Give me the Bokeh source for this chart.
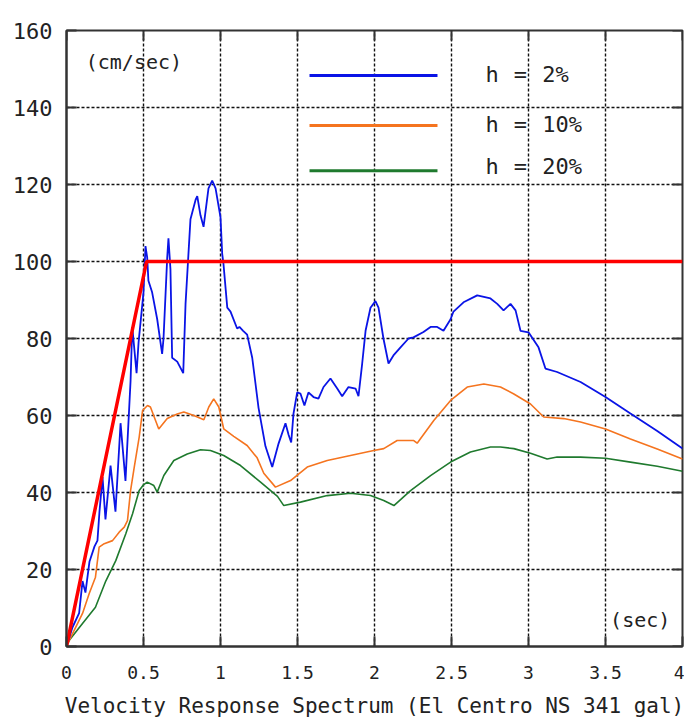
from bokeh.plotting import figure
from bokeh.models import Range1d, FixedTicker
from bokeh.core.properties import value
from bokeh.embed import file_html
from bokeh.resources import INLINE

# ---- data (period in sec, velocity in cm/sec) ----
period_h2 = [0, 0.039, 0.082, 0.104, 0.123, 0.149, 0.182, 0.201, 0.214, 0.234,
             0.253, 0.286, 0.318, 0.351, 0.383, 0.416, 0.427, 0.455, 0.468, 0.5,
             0.513, 0.524, 0.532, 0.556, 0.589, 0.621, 0.630, 0.654, 0.662, 0.675,
             0.686, 0.719, 0.758, 0.773, 0.805, 0.838, 0.849, 0.870, 0.890, 0.922,
             0.946, 0.968, 1.0, 1.011, 1.019, 1.044, 1.065, 1.108, 1.123, 1.147,
             1.173, 1.206, 1.247, 1.292, 1.336, 1.377, 1.422, 1.442, 1.459, 1.474,
             1.498, 1.519, 1.545, 1.571, 1.604, 1.636, 1.669, 1.714, 1.758, 1.790,
             1.831, 1.877, 1.896, 1.920, 1.942, 1.974, 2.006, 2.026, 2.058, 2.091,
             2.123, 2.169, 2.221, 2.253, 2.318, 2.364, 2.407, 2.448, 2.494, 2.513,
             2.578, 2.667, 2.753, 2.797, 2.838, 2.883, 2.916, 2.948, 3.0, 3.065,
             3.11, 3.186, 3.338, 3.5, 3.662, 3.836, 4.0]
vel_h2 = [0, 5, 8.7, 17, 14, 22, 26, 27.5, 35, 44,
          33, 47, 35, 58, 43, 69, 83, 71, 79, 92,
          104, 101, 95, 92, 85, 76, 80, 101, 106, 98,
          75, 74, 71, 89, 111, 116, 117, 112, 109, 119,
          121, 119, 111.5, 102, 99.5, 88, 87, 82.6, 83, 82,
          81, 75, 62, 52, 46.6, 52.7, 58, 55, 53, 60.5,
          66, 65.7, 62.6, 66, 64.8, 64.4, 67.4, 69.6, 67, 65,
          67.4, 67, 65, 73.5, 82, 88, 89.7, 88, 80, 73.5,
          75.6, 77.7, 80, 80.3, 81.7, 83, 83, 82, 85, 87,
          89.4, 91.2, 90.4, 89, 87.3, 89, 87.3, 82, 81.6, 77.7,
          72.2, 71.3, 68.7, 64.8, 60.5, 56, 51.4]

period_h10 = [0, 0.018, 0.104, 0.147, 0.188, 0.212, 0.245, 0.299, 0.342, 0.375,
              0.396, 0.416, 0.44, 0.472, 0.494, 0.526, 0.545, 0.599, 0.654, 0.719,
              0.762, 0.827, 0.892, 0.924, 0.956, 0.989, 1.021, 1.086, 1.173, 1.238,
              1.281, 1.357, 1.455, 1.563, 1.693, 1.844, 1.995, 2.06, 2.147, 2.255,
              2.277, 2.385, 2.494, 2.602, 2.71, 2.818, 2.905, 3.013, 3.099, 3.229,
              3.338, 3.5, 3.662, 3.836, 4.0]
vel_h10 = [0, 1.6, 8.6, 13.7, 18, 25.8, 26.7, 27.5, 29.7, 31,
           32.7, 40.5, 46.6, 54.4, 61.3, 62.6, 62.2, 56.5, 59.2, 60.4,
           60.9, 60, 58.9, 62.2, 64.3, 62.2, 56.5, 54.6, 52.2, 49,
           45, 41.4, 43.1, 46.6, 48.3, 49.6, 50.9, 51.4, 53.5, 53.5,
           52.8, 58.7, 63.9, 67.4, 68.2, 67.4, 65.6, 63, 59.6, 59.2,
           58.3, 56.5, 53.9, 51.3, 48.7]

period_h20 = [0, 0.018, 0.104, 0.188, 0.255, 0.32, 0.385, 0.429, 0.472, 0.5,
              0.524, 0.567, 0.589, 0.632, 0.697, 0.784, 0.87, 0.935, 1.021, 1.13,
              1.26, 1.37, 1.411, 1.519, 1.693, 1.844, 1.974, 2.06, 2.126, 2.234,
              2.364, 2.494, 2.623, 2.753, 2.818, 2.905, 3.013, 3.121, 3.186, 3.338,
              3.5, 3.662, 3.836, 4.0]
vel_h20 = [0, 1.6, 6, 10.2, 17, 22.3, 29.3, 34.5, 40.5, 42,
           42.7, 41.8, 40.1, 44.4, 48.3, 50, 51.1, 50.9, 49.6, 47,
           42.7, 39, 36.6, 37.5, 39.2, 39.8, 39.2, 37.9, 36.6, 40.5,
           44.4, 47.9, 50.5, 51.8, 51.8, 51.4, 50.2, 48.7, 49.2, 49.2,
           48.9, 47.9, 46.8, 45.5]

design_period = [0, 0.52, 4.0]
design_vel = [0, 100, 100]

x_ticks = [0, 0.5, 1, 1.5, 2, 2.5, 3, 3.5, 4]
x_tick_labels = ["0", "0.5", "1", "1.5", "2", "2.5", "3", "3.5", "4"]
y_ticks = [0, 20, 40, 60, 80, 100, 120, 140, 160]

legend_pct = ["2%", "10%", "20%"]
series_colors = ["#0a14e6", "#f5741f", "#1f7a2e"]

FONT = "DejaVu Sans Mono"
TXT = "#222222"
X0, X1, Y0, Y1 = 0, 4, 0, 160

p = figure(width=684, height=724, x_range=Range1d(X0, X1), y_range=Range1d(Y0, Y1),
           output_backend="svg", toolbar_location=None,
           min_border_left=66, min_border_right=2, min_border_top=30,
           min_border_bottom=78)
p.background_fill_color = "white"
p.border_fill_color = "white"
p.outline_line_color = "#333333"
p.outline_line_width = 2

# axes
p.xaxis.ticker = FixedTicker(ticks=x_ticks)
p.xaxis.major_label_overrides = {t: l for t, l in zip(x_ticks, x_tick_labels)}
p.yaxis.ticker = FixedTicker(ticks=y_ticks)
for ax in (p.xaxis[0], p.yaxis[0]):
    ax.axis_line_color = "#333333"
    ax.axis_line_width = 2
    ax.major_tick_in = 10
    ax.major_tick_out = 0
    ax.major_tick_line_width = 2
    ax.major_tick_line_color = "#333333"
    ax.minor_tick_line_color = None
    ax.major_label_text_font = FONT
    ax.major_label_text_color = TXT
p.xaxis.major_label_text_font_size = "18px"
p.xaxis.major_label_standoff = 19
p.yaxis.major_label_text_font_size = "22px"
p.yaxis.major_label_standoff = 14
p.xaxis.axis_label = "Velocity Response Spectrum (El Centro NS 341 gal)"
p.xaxis.axis_label_text_font = FONT
p.xaxis.axis_label_text_font_size = "21px"
p.xaxis.axis_label_text_font_style = "normal"
p.xaxis.axis_label_text_color = TXT
p.xaxis.axis_label_standoff = 12

# grid
for g in (p.xgrid[0], p.ygrid[0]):
    g.grid_line_color = "#111111"
    g.grid_line_dash = "3 2"
    g.grid_line_width = 1.4

# inward tick marks on the top and right frame edges (10 px long)
tick_dy = 10 * (Y1 - Y0) / 616
tick_dx = 10 * (X1 - X0) / 616
p.segment(x0=x_ticks, y0=[Y1] * len(x_ticks), x1=x_ticks, y1=[Y1 - tick_dy] * len(x_ticks),
          line_color="#333333", line_width=2)
p.segment(x0=[X1] * len(y_ticks), y0=y_ticks, x1=[X1 - tick_dx] * len(y_ticks), y1=y_ticks,
          line_color="#333333", line_width=2)

# curves
p.line(period_h20, vel_h20, line_color=series_colors[2], line_width=1.6)
p.line(period_h10, vel_h10, line_color=series_colors[1], line_width=1.6)
p.line(period_h2, vel_h2, line_color=series_colors[0], line_width=1.8)
p.line(design_period, design_vel, line_color="#ff0000", line_width=3.5)

# legend (drawn manually)
leg_y_line = [148.3, 135.3, 123.6]
leg_y_text = [148.5, 135.6, 124.6]
for i in range(3):
    p.line([1.578, 2.409], [leg_y_line[i]] * 2, line_color=series_colors[i], line_width=3)
p.text(x=[2.72] * 3, y=leg_y_text, text=["h"] * 3, text_font=value(FONT),
       text_font_size="22px", text_color=TXT, text_baseline="middle", text_align="left")
p.text(x=[2.905] * 3, y=leg_y_text, text=["="] * 3, text_font=value(FONT),
       text_font_size="22px", text_color=TXT, text_baseline="middle", text_align="left")
p.text(x=[3.09] * 3, y=leg_y_text, text=legend_pct, text_font=value(FONT),
       text_font_size="22px", text_color=TXT, text_baseline="middle", text_align="left")

# unit labels
p.text(x=[0.125], y=[151.7], text=["(cm/sec)"], text_font=value(FONT),
       text_font_size="20px", text_color=TXT, text_baseline="middle", text_align="left")
p.text(x=[3.53], y=[6.8], text=["(sec)"], text_font=value(FONT),
       text_font_size="20px", text_color=TXT, text_baseline="middle", text_align="left")

open("out.html", "w").write(file_html(p, INLINE))
